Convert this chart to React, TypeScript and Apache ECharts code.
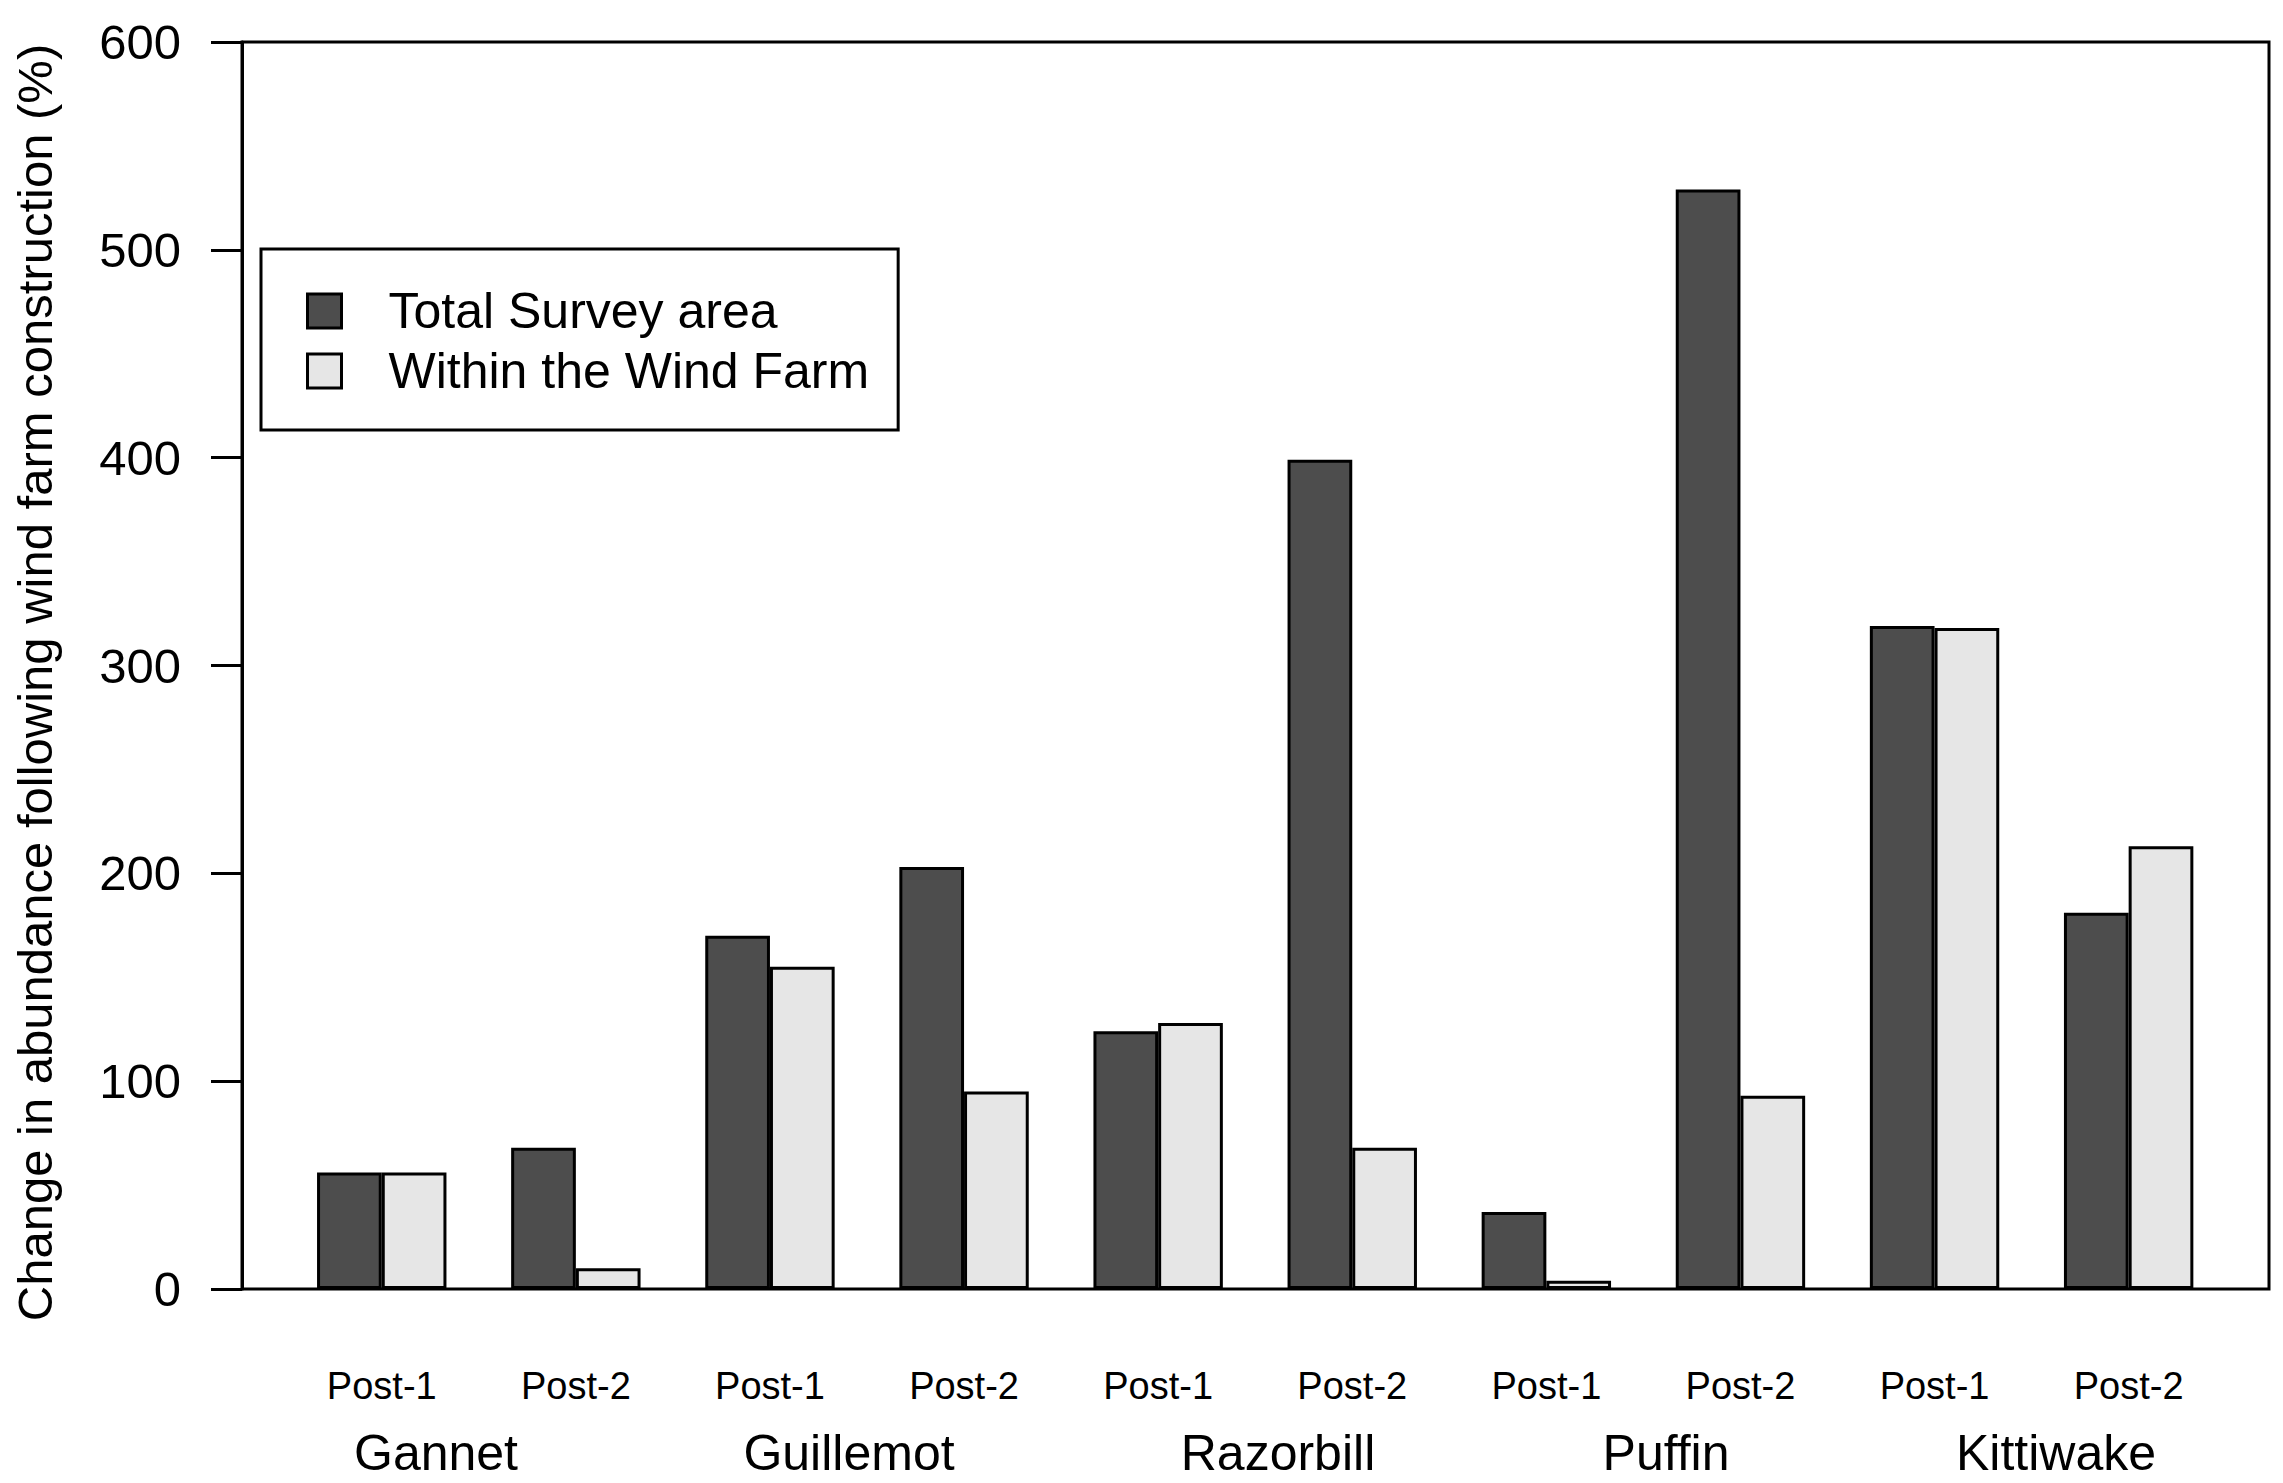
import React, { useEffect, useRef } from "react";
import * as echarts from "echarts";

// ---- data ----
const species = ["Gannet", "Guillemot", "Razorbill", "Puffin", "Kittiwake"];
const periods = ["Post-1", "Post-2"];
const seriesNames = ["Total Survey area", "Within the Wind Farm"];
// one value per species x period (Post-1, Post-2)
const totalSurvey = [56, 68, 170, 203, 124, 399, 37, 529, 319, 181];
const withinWindFarm = [56, 10, 155, 95, 128, 68, 4, 93, 318, 213];
const yTicks = { min: 0, max: 600, step: 100 };

// ---- layout (not data) ----
const W = 2283;
const H = 1483;
const FONT = "'Liberation Sans', Arial, Helvetica, sans-serif";
const speciesLabelX = [436, 849, 1278, 1666, 2056];
const speciesLabelY = 1453;
const box = { x: 242, y: 42, w: 2269 - 242, h: 1289 - 42 };
const gridLeft = 284.7;
const gridRight = W - 2225.7;

const categories = species.flatMap((s) => periods.map((p) => `${s}|${p}`));

export default function App() {
  const ref = useRef<HTMLDivElement>(null);
  useEffect(() => {
    const chart = echarts.init(ref.current as HTMLDivElement, null, { renderer: "svg" });
    const option: any = {
      animation: false,
      backgroundColor: "#ffffff",
      textStyle: { fontFamily: FONT, color: "#000" },
      grid: {
        left: gridLeft,
        right: gridRight,
        top: box.y,
        bottom: H - (box.y + box.h),
        containLabel: false,
      },
      legend: {
        show: true,
        orient: "vertical",
        left: 261,
        top: 249,
        padding: [37, 29, 34, 45],
        itemWidth: 34,
        itemHeight: 34,
        itemGap: 10,
        borderColor: "#000",
        borderWidth: 3,
        backgroundColor: "#fff",
        selectedMode: false,
        icon: "rect",
        itemStyle: { borderColor: "#000", borderWidth: 3 },
        textStyle: {
          fontFamily: FONT,
          fontSize: 50,
          lineHeight: 50,
          color: "#000",
          padding: [0, 0, 0, 42],
        },
        data: seriesNames,
      },
      xAxis: {
        type: "category",
        data: categories,
        boundaryGap: true,
        axisLine: { show: false },
        axisTick: { show: false },
        axisLabel: {
          interval: 0,
          margin: 78,
          fontSize: 38,
          color: "#000",
          fontFamily: FONT,
          formatter: (v: string) => v.split("|")[1],
        },
        splitLine: { show: false },
      },
      yAxis: {
        type: "value",
        min: yTicks.min,
        max: yTicks.max,
        interval: yTicks.step,
        offset: gridLeft - box.x,
        axisLine: { show: true, lineStyle: { color: "#000", width: 3 } },
        axisTick: { show: true, length: 31, lineStyle: { color: "#000", width: 3 } },
        axisLabel: { margin: 61, fontSize: 49, color: "#000", fontFamily: FONT },
        splitLine: { show: false },
        name: "Change in abundance following wind farm construction (%)",
        nameLocation: "middle",
        nameGap: 183,
        nameTextStyle: {
          fontSize: 49,
          color: "#000",
          fontFamily: FONT,
          padding: [0, 34, 0, 0],
        },
      },
      series: [
        {
          name: seriesNames[0],
          type: "bar",
          data: totalSurvey,
          barWidth: "33.333%",
          barGap: "0%",
          itemStyle: { color: "#4d4d4d", borderColor: "#000", borderWidth: 3 },
        },
        {
          name: seriesNames[1],
          type: "bar",
          data: withinWindFarm,
          barWidth: "33.333%",
          barGap: "0%",
          itemStyle: { color: "#e6e6e6", borderColor: "#000", borderWidth: 3 },
        },
      ],
      graphic: [
        {
          type: "rect",
          shape: { x: box.x, y: box.y, width: box.w, height: box.h },
          style: { fill: "none", stroke: "#000", lineWidth: 3 },
          silent: true,
          z: 100,
        },
        ...species.map((s, i) => ({
          type: "text",
          x: speciesLabelX[i],
          y: speciesLabelY,
          style: {
            text: s,
            fontSize: 50,
            fontFamily: FONT,
            fill: "#000",
            align: "center",
            verticalAlign: "middle",
          },
        })),
      ],
    };
    chart.setOption(option);
    return () => chart.dispose();
  }, []);
  return (
    <div
      ref={ref}
      style={{ position: "fixed", left: 0, top: 0, width: W, height: H, background: "#fff" }}
    />
  );
}
